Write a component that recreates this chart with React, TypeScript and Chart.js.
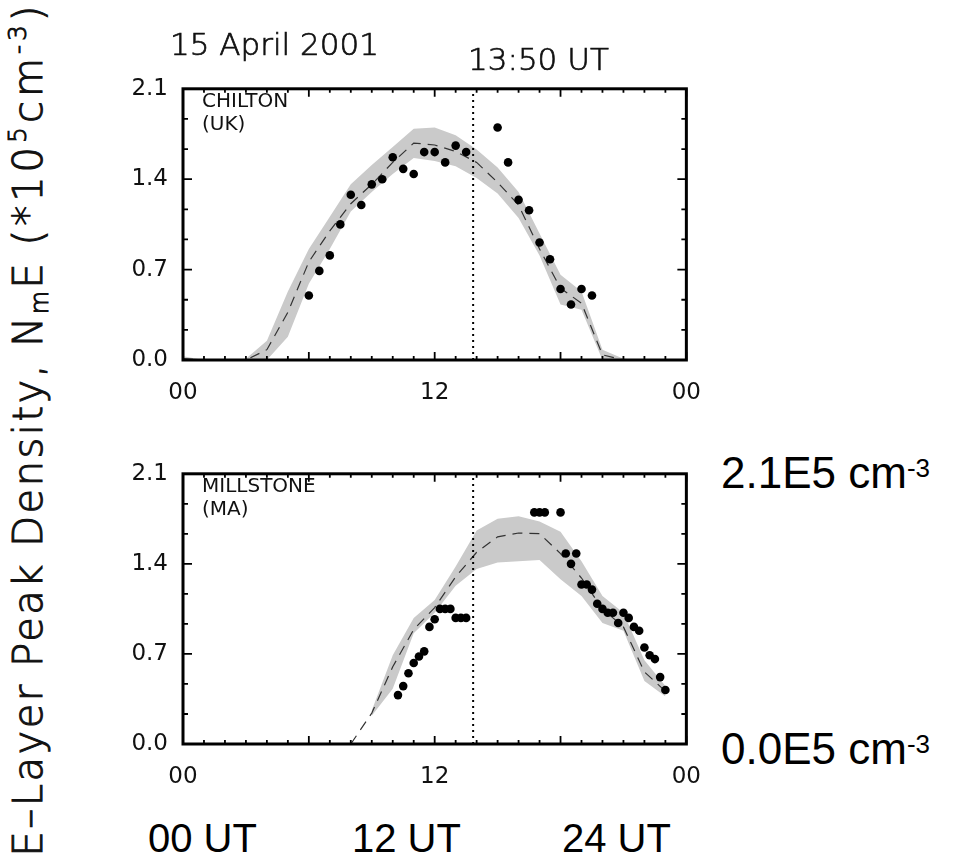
import { useEffect, useRef } from "react";
import { Chart, registerables } from "chart.js";

Chart.register(...registerables);

// ---------- data (UT hours, NmE in units of 1e5 cm^-3) ----------
const CHILTON_OBS_UT = [6.0, 6.5, 7.0, 7.5, 8.0, 8.5, 9.0, 9.5, 10.0, 10.5, 11.0, 11.5, 12.0, 12.5, 13.0, 13.5, 15.0, 15.5, 16.0, 16.5, 17.0, 17.5, 18.0, 18.5, 19.0, 19.5];
const CHILTON_OBS = [0.50, 0.69, 0.81, 1.05, 1.28, 1.20, 1.36, 1.40, 1.57, 1.48, 1.44, 1.61, 1.61, 1.53, 1.66, 1.61, 1.80, 1.53, 1.24, 1.16, 0.91, 0.78, 0.55, 0.43, 0.55, 0.50];

const CHILTON_MODEL_UT = [0, 1, 2, 3, 4, 5, 6, 7, 8, 9, 10, 11, 12, 13, 14, 15, 16, 17, 18, 19, 20, 21, 22, 23, 24];
const CHILTON_MEDIAN = [0.01, 0, 0, 0, 0.08, 0.37, 0.76, 1.0, 1.21, 1.36, 1.53, 1.68, 1.665, 1.615, 1.53, 1.375, 1.2, 0.86, 0.555, 0.44, 0.04, 0, 0, 0, 0];
const CHILTON_UPPER = [0.03, 0, 0, 0.01, 0.15, 0.53, 0.86, 1.11, 1.36, 1.51, 1.65, 1.79, 1.8, 1.74, 1.63, 1.49, 1.3, 0.98, 0.66, 0.53, 0.08, 0.01, 0, 0, 0];
const CHILTON_LOWER = [0, 0, 0, 0, 0, 0.18, 0.59, 0.86, 1.15, 1.3, 1.44, 1.565, 1.54, 1.5, 1.41, 1.29, 1.1, 0.81, 0.43, 0.39, 0, 0, 0, 0, 0];

const MILLSTONE_OBS_UT = [10.25, 10.5, 10.75, 11.0, 11.25, 11.5, 11.75, 12.0, 12.25, 12.5, 12.75, 13.0, 13.25, 13.5, 16.75, 17.0, 17.25, 18.0, 18.25, 18.5, 18.75, 19.0, 19.25, 19.5, 19.75, 20.0, 20.25, 20.5, 20.75, 21.0, 21.25, 21.5, 21.75, 22.0, 22.25, 22.5, 22.75, 23.0];
const MILLSTONE_OBS = [0.38, 0.45, 0.55, 0.63, 0.68, 0.72, 0.91, 0.97, 1.05, 1.05, 1.05, 0.98, 0.98, 0.98, 1.8, 1.8, 1.8, 1.8, 1.48, 1.4, 1.48, 1.24, 1.24, 1.2, 1.09, 1.05, 1.02, 1.02, 0.94, 1.02, 0.98, 0.91, 0.88, 0.75, 0.69, 0.66, 0.52, 0.42];

const MILLSTONE_MEDIAN_UT = [8, 9, 10, 11, 12, 13, 14, 15, 16, 17, 18, 19, 20, 21, 22, 23];
const MILLSTONE_MEDIAN = [0.0, 0.24, 0.6, 0.89, 1.06, 1.3, 1.49, 1.61, 1.64, 1.635, 1.48, 1.29, 1.05, 0.91, 0.56, 0.41];
const MILLSTONE_BAND_UT = [9, 10, 11, 12, 13, 14, 15, 16, 17, 18, 19, 20, 21, 22, 23];
const MILLSTONE_UPPER = [0.26, 0.69, 0.98, 1.12, 1.38, 1.66, 1.75, 1.77, 1.73, 1.65, 1.42, 1.15, 1.02, 0.65, 0.45];
const MILLSTONE_LOWER = [0.22, 0.43, 0.86, 1.02, 1.23, 1.36, 1.41, 1.42, 1.43, 1.28, 1.15, 0.94, 0.88, 0.49, 0.37];

// time of the snapshot, 13:50 UT
const NOW_UT = 13 + 50 / 60;

// axis ticks
const X_LABEL_UT = [0, 12, 24];
const X_LABEL_TEXT = ["00", "12", "00"];
const X_TICK_UT = [0, 1, 2, 3, 4, 5, 6, 7, 8, 9, 10, 11, 12, 13, 14, 15, 16, 17, 18, 19, 20, 21, 22, 23, 24];
const X_MAJOR_UT = [0, 6, 12, 18, 24];
const Y_LABEL_VALUES = [0, 0.7, 1.4, 2.1];
const Y_TICK_VALUES = [0, 0.2333, 0.4667, 0.7, 0.9333, 1.1667, 1.4, 1.6333, 1.8667, 2.1];

const PLOT_FONT = "'DejaVu Sans', sans-serif";
const SLIDE_FONT = "'Liberation Sans', Arial, sans-serif";
const BAND_GREY = "#cacaca";

const pts = (xs: number[], ys: number[]) => xs.map((x, i) => ({ x, y: ys[i] }));

// frame drawn round the plot area with inward ticks on all four sides
const frameTicks = {
  id: "frameTicks",
  afterDatasetsDraw(chart: any) {
    const { ctx, chartArea: a, scales } = chart;
    const xs = scales.x;
    const ys = scales.y;
    ctx.save();
    ctx.strokeStyle = "#000";
    ctx.lineWidth = 1.8;
    ctx.beginPath();
    X_TICK_UT.forEach((h) => {
      const px = xs.getPixelForValue(h);
      const len = X_MAJOR_UT.includes(h) ? 8 : 4;
      ctx.moveTo(px, a.bottom);
      ctx.lineTo(px, a.bottom - len);
      ctx.moveTo(px, a.top);
      ctx.lineTo(px, a.top + len);
    });
    Y_TICK_VALUES.forEach((v) => {
      const py = ys.getPixelForValue(v);
      const len = Y_LABEL_VALUES.includes(v) ? 9 : 5;
      ctx.moveTo(a.left, py);
      ctx.lineTo(a.left + len, py);
      ctx.moveTo(a.right, py);
      ctx.lineTo(a.right - len, py);
    });
    ctx.stroke();
    ctx.lineWidth = 3;
    ctx.strokeRect(a.left, a.top, a.right - a.left, a.bottom - a.top);
    ctx.restore();
  },
};

type PanelProps = {
  top: number;
  xAxisHeight: number;
  obsUT: number[];
  obs: number[];
  medianUT: number[];
  median: number[];
  bandUT: number[];
  upper: number[];
  lower: number[];
};

function Panel(p: PanelProps) {
  const ref = useRef<HTMLCanvasElement | null>(null);

  useEffect(() => {
    if (!ref.current) return;
    const tickFont = { family: PLOT_FONT, size: 23, weight: "normal" as any };
    const chart = new Chart(ref.current, {
      type: "line",
      data: {
        datasets: [
          {
            label: "observed",
            data: pts(p.obsUT, p.obs),
            showLine: false,
            pointRadius: 4.3,
            pointBackgroundColor: "#000",
            pointBorderWidth: 0,
            order: 0,
          },
          {
            label: "13:50 UT",
            data: [
              { x: NOW_UT, y: 0 },
              { x: NOW_UT, y: 2.1 },
            ],
            borderColor: "#000",
            borderWidth: 2,
            borderDash: [2, 4],
            pointRadius: 0,
            order: 1,
          },
          {
            label: "median",
            data: pts(p.medianUT, p.median),
            borderColor: "#333",
            borderWidth: 1.2,
            borderDash: [10, 7],
            pointRadius: 0,
            order: 2,
          },
          {
            label: "upper",
            data: pts(p.bandUT, p.upper),
            borderWidth: 0,
            borderColor: BAND_GREY,
            backgroundColor: BAND_GREY,
            pointRadius: 0,
            fill: "+1",
            order: 3,
          },
          {
            label: "lower",
            data: pts(p.bandUT, p.lower),
            borderWidth: 0,
            borderColor: BAND_GREY,
            pointRadius: 0,
            fill: false,
            order: 4,
          },
        ],
      },
      options: {
        responsive: false,
        animation: false,
        devicePixelRatio: 1,
        layout: { padding: { top: 23, right: 32, left: 0, bottom: 0 } },
        plugins: {
          legend: { display: false },
          tooltip: { enabled: false },
        },
        scales: {
          x: {
            type: "linear",
            min: 0,
            max: 24,
            grid: { display: false, drawTicks: false },
            border: { display: false },
            afterFit: (s: any) => {
              s.height = p.xAxisHeight;
            },
            afterBuildTicks: (s: any) => {
              s.ticks = X_LABEL_UT.map((v) => ({ value: v }));
            },
            ticks: {
              padding: 19,
              color: "#111",
              font: tickFont,
              maxRotation: 0,
              autoSkip: false,
              callback: (v: any) => X_LABEL_TEXT[X_LABEL_UT.indexOf(Number(v))],
            },
          },
          y: {
            type: "linear",
            min: 0,
            max: 2.1,
            grid: { display: false, drawTicks: false },
            border: { display: false },
            afterFit: (s: any) => {
              s.width = 83;
            },
            afterBuildTicks: (s: any) => {
              s.ticks = Y_LABEL_VALUES.map((v) => ({ value: v }));
            },
            ticks: {
              padding: 15,
              color: "#111",
              font: tickFont,
              autoSkip: false,
              callback: (v: any) => Number(v).toFixed(1),
            },
          },
        },
      },
      plugins: [frameTicks],
    });
    return () => chart.destroy();
  }, []);

  return (
    <canvas
      ref={ref}
      width={620}
      height={360}
      style={{ position: "absolute", left: 100, top: p.top, width: 620, height: 360 }}
    />
  );
}

const txt = (extra: any) => ({
  position: "absolute" as const,
  whiteSpace: "nowrap" as const,
  color: "#111",
  margin: 0,
  ...extra,
});

export default function App() {
  const thinText = { fontFamily: PLOT_FONT, fontWeight: 200, WebkitTextStroke: "0.7px #111" };
  const plotText = { fontFamily: PLOT_FONT, fontWeight: "normal" };
  const slideText = { fontFamily: SLIDE_FONT, color: "#000" };
  const sup = { fontSize: 25, verticalAlign: 16 };
  return (
    <div
      style={{
        position: "absolute",
        left: 0,
        top: 0,
        width: 965,
        height: 862,
        background: "#fff",
        overflow: "hidden",
      }}
    >
      <Panel
        top={60}
        xAxisHeight={60}
        obsUT={CHILTON_OBS_UT}
        obs={CHILTON_OBS}
        medianUT={CHILTON_MODEL_UT}
        median={CHILTON_MEDIAN}
        bandUT={CHILTON_MODEL_UT}
        upper={CHILTON_UPPER}
        lower={CHILTON_LOWER}
      />
      <Panel
        top={445}
        xAxisHeight={61}
        obsUT={MILLSTONE_OBS_UT}
        obs={MILLSTONE_OBS}
        medianUT={MILLSTONE_MEDIAN_UT}
        median={MILLSTONE_MEDIAN}
        bandUT={MILLSTONE_BAND_UT}
        upper={MILLSTONE_UPPER}
        lower={MILLSTONE_LOWER}
      />

      {/* date and snapshot time */}
      <div style={txt({ ...thinText, left: 170, top: 24, fontSize: 31, lineHeight: "40px" })}>15 April 2001</div>
      <div style={txt({ ...thinText, left: 468, top: 39, fontSize: 31, lineHeight: "40px" })}>13:50 UT</div>

      {/* station names */}
      <div style={txt({ ...plotText, left: 202, top: 89, fontSize: 20, lineHeight: "23px" })}>
        CHILTON
        <br />
        (UK)
      </div>
      <div style={txt({ ...plotText, left: 202, top: 474, fontSize: 20, lineHeight: "23px" })}>
        MILLSTONE
        <br />
        (MA)
      </div>

      {/* vertical axis title */}
      <div
        style={txt({
          ...thinText,
          WebkitTextStroke: "1px #111",
          left: 18 - 431,
          top: 429 - 25,
          width: 862,
          height: 50,
          lineHeight: "50px",
          fontSize: 40,
          textAlign: "center",
          transform: "rotate(-90deg)",
          transformOrigin: "50% 50%",
        })}
      >
        <span style={{ letterSpacing: 2.5 }}>
          E–Layer Peak Density, N<span style={{ fontSize: 24, verticalAlign: -6 }}>m</span>E{"\u00a0"}
        </span>
        <span style={{ letterSpacing: 4 }}>
          (*10<span style={sup}>5</span>cm<span style={sup}>-3</span>)
        </span>
      </div>

      {/* scale annotations */}
      <div style={txt({ ...slideText, left: 721, top: 446, fontSize: 44, lineHeight: "44px" })}>
        2.1E5 cm<span style={{ fontSize: 26, verticalAlign: 11 }}>-3</span>
      </div>
      <div style={txt({ ...slideText, left: 721, top: 722, fontSize: 44, lineHeight: "44px" })}>
        0.0E5 cm<span style={{ fontSize: 26, verticalAlign: 11 }}>-3</span>
      </div>
      <div style={txt({ ...slideText, left: 148, top: 818, fontSize: 40, lineHeight: "40px" })}>00 UT</div>
      <div style={txt({ ...slideText, left: 352, top: 818, fontSize: 40, lineHeight: "40px" })}>12 UT</div>
      <div style={txt({ ...slideText, left: 562, top: 818, fontSize: 40, lineHeight: "40px" })}>24 UT</div>
    </div>
  );
}
